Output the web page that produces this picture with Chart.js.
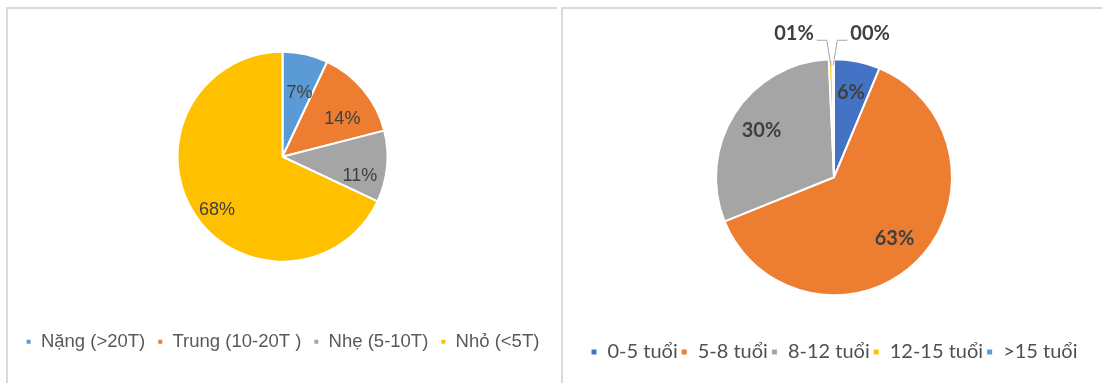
<!DOCTYPE html>
<html>
<head>
<meta charset="utf-8">
<script src="https://cdn.jsdelivr.net/npm/chart.js@4"></script>
<style>
  html, body { margin: 0; padding: 0; background: #fff; overflow: hidden; }
  body { width: 1102px; height: 383px; position: relative; }
  .panel { position: absolute; border-left: 2px solid #dadada; border-top: 2px solid #dadada; }
  #p1 { left: 6px; top: 7px; width: 549px; height: 376px; }
  #p2 { left: 561px; top: 7px; width: 541px; height: 376px; }
  #c1 { position: absolute; left: 8px; top: -7px; }
  #c2 { position: absolute; left: 563px; top: 9px; }
</style>
</head>
<body>
<div class="panel" id="p1"></div>
<div class="panel" id="p2"></div>
<canvas id="c1" width="549" height="390"></canvas>
<canvas id="c2" width="542" height="374"></canvas>
<script>
// Biểu đồ 1: loại xe theo tải trọng
const loaiXe = ['Nặng (>20T)', 'Trung (10-20T )', 'Nhẹ (5-10T)', 'Nhỏ (<5T)'];
const tyLeXe = [7, 14, 11, 68];
const nhanXe = ['7%', '14%', '11%', '68%'];
const mauXe = ['#5b9bd5', '#ed7d31', '#a5a5a5', '#ffc000'];

// Biểu đồ 2: độ tuổi xe
const nhomTuoi = ['0-5 tuổi', '5-8 tuổi', '8-12 tuổi', '12-15 tuổi', '>15 tuổi'];
const tyLeTuoi = [6.3, 62.6, 30.4, 0.5, 0.2];
const nhanTuoi = ['6%', '63%', '30%', '01%', '00%'];
const mauTuoi = ['#4472c4', '#ed7d31', '#a5a5a5', '#ffc000', '#5b9bd5'];

// plugin vẽ nhãn phần trăm trên từng lát
const nhanPlugin = {
  id: 'nhan',
  afterDatasetsDraw(chart, args, opts) {
    const ctx = chart.ctx;
    const meta = chart.getDatasetMeta(0);
    const total = chart.data.datasets[0].data.reduce((a, b) => a + b, 0);
    let k = 0;
    ctx.save();
    ctx.font = opts.font;
    ctx.fillStyle = opts.color;
    ctx.textBaseline = 'middle';
    meta.data.forEach((arc, i) => {
      const p = arc.getProps(['x', 'y', 'startAngle', 'endAngle', 'outerRadius'], true);
      const mid = (p.startAngle + p.endAngle) / 2;
      const text = opts.texts[i];
      const v = chart.data.datasets[0].data[i] / total;
      if (v < 0.02) {
        // nhãn nhỏ nằm ngoài, có đường dẫn
        const side = k % 2 === 0 ? -1 : 1;
        k++;
        const ex = p.x + Math.cos(mid) * (p.outerRadius - 6);
        const ey = p.y + Math.sin(mid) * (p.outerRadius - 6);
        const top = p.y - p.outerRadius - 19;
        const bx = ex + side * 4;
        const lx = bx + side * 10;
        ctx.strokeStyle = '#a6a6a6';
        ctx.lineWidth = 1;
        ctx.beginPath();
        ctx.moveTo(ex, ey);
        ctx.lineTo(bx, top);
        ctx.lineTo(lx, top);
        ctx.stroke();
        ctx.textAlign = side < 0 ? 'right' : 'left';
        ctx.fillText(text, lx + side * 3, top - 7);
      } else {
        const r = p.outerRadius * opts.frac;
        ctx.textAlign = 'center';
        ctx.fillText(text, p.x + Math.cos(mid) * r, p.y + Math.sin(mid) * r + opts.dy);
      }
    });
    ctx.restore();
  }
};

new Chart(document.getElementById('c1'), {
  type: 'pie',
  data: {
    labels: loaiXe,
    datasets: [{
      data: tyLeXe,
      backgroundColor: mauXe,
      borderColor: '#fff',
      borderWidth: 2,
      radius: 105
    }]
  },
  options: {
    responsive: false,
    animation: false,
    layout: { padding: { top: 0, bottom: 22, left: 0, right: 0 } },
    plugins: {
      tooltip: { enabled: false },
      legend: {
        position: 'bottom',
        labels: {
          boxWidth: 6,
          boxHeight: 6,
          padding: 12,
          color: '#595959',
          font: { family: '"Liberation Sans", Arial, sans-serif', size: 18.5 }
        }
      },
      nhan: { texts: nhanXe, frac: 0.74, dy: 12, color: '#404040', font: '18px "Liberation Sans", Arial, sans-serif' }
    }
  },
  plugins: [nhanPlugin]
});

new Chart(document.getElementById('c2'), {
  type: 'pie',
  data: {
    labels: nhomTuoi,
    datasets: [{
      data: tyLeTuoi,
      backgroundColor: mauTuoi,
      borderColor: '#fff',
      borderWidth: 2,
      radius: 118
    }]
  },
  options: {
    responsive: false,
    animation: false,
    layout: { padding: { top: 6.5, bottom: 11, left: 0, right: 0 } },
    plugins: {
      tooltip: { enabled: false },
      legend: {
        position: 'bottom',
        labels: {
          boxWidth: 7,
          boxHeight: 7,
          padding: 3,
          color: '#505050',
          font: { family: 'Lato, "Open Sans", sans-serif', size: 20 }
        }
      },
      nhan: { texts: nhanTuoi, frac: 0.73, dy: 0, color: '#404040', font: 'bold 20px Lato, "Open Sans", sans-serif' }
    }
  },
  plugins: [nhanPlugin]
});
</script>
</body>
</html>
